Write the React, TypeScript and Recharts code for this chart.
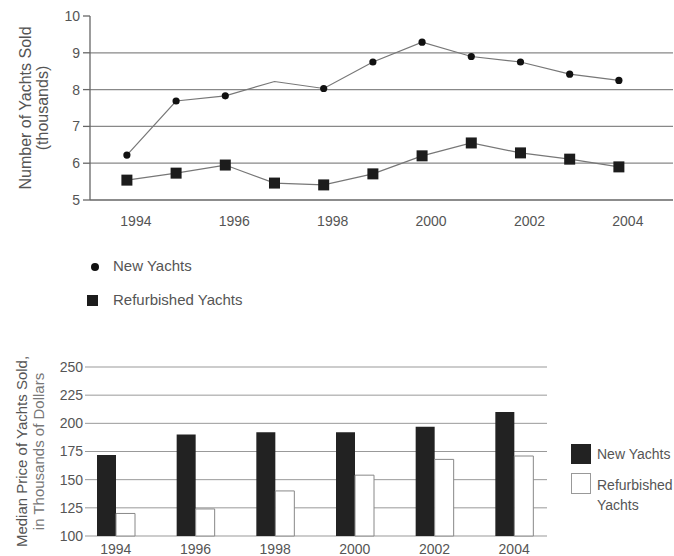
import {
  LineChart,
  Line,
  BarChart,
  Bar,
  XAxis,
  YAxis,
  CartesianGrid,
  Label,
} from "recharts";

// top chart: yachts sold (thousands)
const years = [1994, 1995, 1996, 1997, 1998, 1999, 2000, 2001, 2002, 2003, 2004];
const newYachts = [6.22, 7.69, 7.83, 8.22, 8.03, 8.75, 9.29, 8.9, 8.75, 8.42, 8.25];
const refurbishedYachts = [5.54, 5.73, 5.95, 5.46, 5.41, 5.71, 6.2, 6.55, 6.28, 6.11, 5.9];
const yearTicks = [1994, 1996, 1998, 2000, 2002, 2004];
const countTicks = [5, 6, 7, 8, 9, 10];

// bottom chart: median price (thousands of dollars)
const priceYears = ["1994", "1996", "1998", "2000", "2002", "2004"];
const newPrice = [172, 190, 192, 192, 197, 210];
const refurbishedPrice = [120, 124, 140, 154, 168, 171];
const priceTicks = [100, 125, 150, 175, 200, 225, 250];

const FONT = '"Liberation Sans", Arial, sans-serif';
const TEXT = "#555";

const salesData = years.map((year, i) => ({
  year,
  newYachts: newYachts[i],
  refurbished: refurbishedYachts[i],
}));

const priceData = priceYears.map((year, i) => ({
  year,
  newYachts: newPrice[i],
  refurbished: refurbishedPrice[i],
}));

function CircleDot(props: any) {
  const { cx, cy, payload, index } = props;
  // the reference has no marker on 1997
  if (payload.year === 1997) return <g key={index} />;
  return <circle key={index} cx={cx} cy={cy} r={3.6} fill="#111" />;
}

function SquareDot(props: any) {
  const { cx, cy, index } = props;
  return <rect key={index} x={cx - 5.5} y={cy - 5.5} width={11} height={11} fill="#1c1c1c" />;
}

function axisTitle(lines: string[], xs: number[], size: number, colors: string[]) {
  return (props: any) => {
    const vb = props.viewBox;
    const cy = vb.y + vb.height / 2;
    return (
      <g>
        {lines.map((t, i) => (
          <text
            key={t}
            x={xs[i]}
            y={cy}
            transform={`rotate(-90, ${xs[i]}, ${cy})`}
            textAnchor="middle"
            dominantBaseline="central"
            fontSize={size}
            fill={colors[i]}
            fontFamily={FONT}
          >
            {t}
          </text>
        ))}
      </g>
    );
  };
}

const tickStyle = { fill: TEXT, fontSize: 14, fontFamily: FONT };

export default function App() {
  return (
    <div
      style={{
        position: "absolute",
        left: 0,
        top: 0,
        width: 674,
        height: 556,
        overflow: "hidden",
        background: "#fff",
        fontFamily: FONT,
      }}
    >
      <div style={{ position: "absolute", left: 0, top: 0 }}>
        <LineChart width={674} height={232} data={salesData} margin={{ top: 16, right: 1, left: 0, bottom: 0 }}>
          <CartesianGrid vertical={false} horizontalValues={[6, 7, 8, 9]} stroke="#888" strokeWidth={1.3} />
          <XAxis
            dataKey="year"
            type="number"
            domain={[1993.25, 2005.1]}
            ticks={yearTicks}
            height={32}
            tickSize={0}
            tickMargin={16}
            tick={{ ...tickStyle, dx: 9 }}
            axisLine={{ stroke: "#666", strokeWidth: 1.3 }}
          />
          <XAxis
            xAxisId="top"
            orientation="top"
            dataKey="year"
            type="number"
            domain={[1993.25, 2005.1]}
            height={0}
            tick={false}
            tickLine={false}
            axisLine={{ stroke: "#ccc" }}
          />
          <YAxis
            domain={[5, 10]}
            ticks={countTicks}
            width={90}
            tickSize={7}
            tickMargin={3}
            tick={tickStyle}
            tickLine={{ stroke: "#666", strokeWidth: 1.3 }}
            axisLine={{ stroke: "#666", strokeWidth: 1.3 }}
          >
            <Label
              content={axisTitle(["Number of Yachts Sold", "(thousands)"], [25, 42], 16, [TEXT, TEXT])}
            />
          </YAxis>
          <YAxis
            yAxisId="r"
            orientation="right"
            domain={[5, 10]}
            width={0}
            tick={false}
            tickLine={false}
            axisLine={{ stroke: "#ccc" }}
          />
          <Line
            dataKey="newYachts"
            stroke="#777"
            strokeWidth={1.2}
            dot={CircleDot}
            isAnimationActive={false}
          />
          <Line
            dataKey="refurbished"
            stroke="#777"
            strokeWidth={1.2}
            dot={SquareDot}
            isAnimationActive={false}
          />
        </LineChart>
      </div>

      {/* top legend */}
      <div style={{ position: "absolute", left: 0, top: 255, fontSize: 15, color: TEXT }}>
        <div style={{ position: "absolute", left: 91, top: 8, width: 8, height: 8, borderRadius: 4, background: "#111" }} />
        <div style={{ position: "absolute", left: 113, top: 2, whiteSpace: "nowrap" }}>New Yachts</div>
        <div style={{ position: "absolute", left: 87, top: 40, width: 11, height: 11, background: "#1c1c1c" }} />
        <div style={{ position: "absolute", left: 113, top: 36, whiteSpace: "nowrap" }}>Refurbished Yachts</div>
      </div>

      <div style={{ position: "absolute", left: 0, top: 350 }}>
        <BarChart
          width={548}
          height={206}
          data={priceData}
          margin={{ top: 17, right: 1, left: 0, bottom: 0 }}
          barGap={0}
          barSize={19}
        >
          <CartesianGrid vertical={false} stroke="#999" />
          <XAxis
            dataKey="year"
            height={20}
            padding={{ left: -9, right: -7 }}
            tickSize={0}
            tickMargin={8}
            tick={tickStyle}
            axisLine={false}
          />
          <YAxis
            domain={[100, 250]}
            ticks={priceTicks}
            width={85}
            tickSize={0}
            tickMargin={2}
            tick={tickStyle}
            tickLine={false}
            axisLine={false}
          >
            <Label
              content={axisTitle(
                ["Median Price of Yachts Sold,", "in Thousands of Dollars"],
                [21, 38],
                15,
                [TEXT, "#777"]
              )}
            />
          </YAxis>
          <YAxis
            yAxisId="r"
            orientation="right"
            domain={[100, 250]}
            width={0}
            tick={false}
            tickLine={false}
            axisLine={{ stroke: "#999" }}
          />
          <Bar dataKey="newYachts" fill="#222" isAnimationActive={false} />
          <Bar dataKey="refurbished" fill="#fff" stroke="#888" strokeWidth={1} isAnimationActive={false} />
        </BarChart>
      </div>

      {/* bottom legend */}
      <div style={{ position: "absolute", left: 0, top: 0, fontSize: 14, color: TEXT }}>
        <div style={{ position: "absolute", left: 571, top: 444, width: 20, height: 20, background: "#222" }} />
        <div style={{ position: "absolute", left: 597, top: 446, whiteSpace: "nowrap" }}>New Yachts</div>
        <div
          style={{
            position: "absolute",
            left: 571,
            top: 473,
            width: 18,
            height: 19,
            background: "#fff",
            border: "1px solid #999",
          }}
        />
        <div style={{ position: "absolute", left: 597, top: 475, whiteSpace: "nowrap", lineHeight: "20px" }}>
          Refurbished
          <br />
          Yachts
        </div>
      </div>
    </div>
  );
}
